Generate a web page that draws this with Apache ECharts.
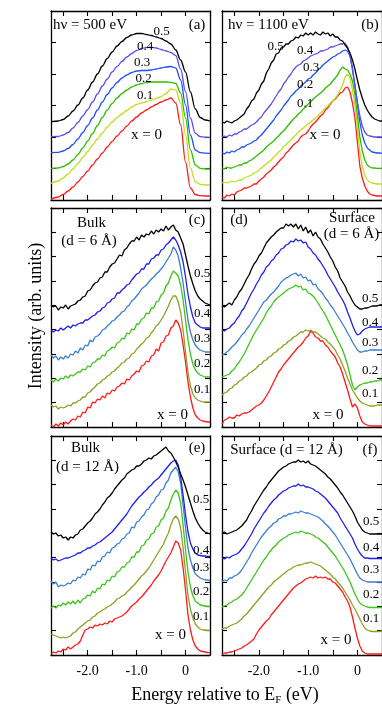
<!DOCTYPE html>
<html>
<head>
<meta charset="utf-8">
<script src="https://cdn.jsdelivr.net/npm/echarts@6/dist/echarts.min.js"></script>
<style>
html, body { margin: 0; padding: 0; background: #fff; }
#main { width: 382px; height: 707px; }
</style>
</head>
<body>
<div id="main"></div>
<script>
// energy grids (eV relative to EF)
const energyA = [-2.75, -2.6, -2.5, -2.4, -2.3, -2.2, -2.1, -2.0, -1.9, -1.8, -1.7, -1.6, -1.5, -1.4, -1.3, -1.2, -1.1, -1.0,
  -0.9, -0.8, -0.7, -0.6, -0.5, -0.4, -0.3, -0.2, -0.1, 0, 0.1, 0.2, 0.3, 0.4, 0.5]
const energy = [-2.75, -2.7, -2.65, -2.6, -2.55, -2.5, -2.45, -2.4, -2.35, -2.3,
  -2.25, -2.2, -2.15, -2.1, -2.05, -2, -1.95, -1.9, -1.85, -1.8,
  -1.75, -1.7, -1.65, -1.6, -1.55, -1.5, -1.45, -1.4, -1.35, -1.3,
  -1.25, -1.2, -1.15, -1.1, -1.05, -1, -0.95, -0.9, -0.85, -0.8,
  -0.75, -0.7, -0.65, -0.6, -0.55, -0.5, -0.45, -0.4, -0.35, -0.3,
  -0.25, -0.2, -0.15, -0.1, -0.05, 0, 0.05, 0.1, 0.15, 0.2,
  0.25, 0.3, 0.35, 0.4, 0.45, 0.5]

const tickValues = [-2.5, -2, -1.5, -1, -0.5, 0, 0.5]
const labelValues = [-2, -1, 0]
const curveLabels = ['x = 0', '0.1', '0.2', '0.3', '0.4', '0.5']

// (a) hv = 500 eV
const a0 = [0.7, 3, 5.5, 9, 13, 18, 23.5, 29, 35, 41, 47, 53, 58.5, 64, 69, 74, 79, 83, 87, 90, 93, 95.5, 98, 100, 102, 97, 75, 38, 12, 5.5, 4.3, 4, 4]
const a1 = [16.7, 19, 22, 26, 31, 36.5, 42.5, 48.5, 55, 61, 67, 73, 78, 82.5, 86, 89.5, 93, 95.5, 97, 98.5, 100, 101.5, 103.3, 106.5, 111, 110, 97, 65, 32, 18.3, 15.7, 15, 15]
const a2 = [31.7, 32, 33.5, 36, 40, 45.5, 52, 59, 66.5, 74.5, 82.5, 90, 96.5, 102, 106.5, 110, 113, 115, 116.5, 117.5, 118, 118, 118, 118, 117.7, 116.5, 107, 82, 50, 35, 31.7, 31, 31]
const a3 = [47.3, 47.7, 49, 51.5, 55.5, 61, 67.5, 74.5, 82, 90, 98, 105.5, 112, 117.5, 122, 125, 127.5, 129, 129.5, 129.5, 130, 131, 132, 133, 133.5, 132, 120, 95, 65, 50, 47.3, 46.8, 46.7]
const a4 = [63.3, 63.5, 65, 67.5, 72, 77.5, 84, 90.5, 98, 106, 114, 121, 128, 133.5, 138.5, 143, 146.5, 149.5, 151.5, 152.5, 152.7, 152, 150.5, 149, 147.5, 144.5, 131, 108.3, 82, 66.7, 63.3, 62.8, 62.7]
const a5 = [78.3, 79, 80.5, 84, 89, 95, 102, 110, 118, 126, 134, 141.5, 148, 154, 158.5, 162.5, 165, 166.5, 166.5, 165.5, 164.5, 163, 161.5, 159, 156, 150, 140, 128, 108, 91, 82.5, 80, 79]

// (b) hv = 1100 eV
const b0 = [3, 2, 5, 4, 6, 5, 8, 9, 10, 12, 12, 13, 14, 16, 16, 19, 21, 23, 26, 28, 30, 33, 35, 38, 41, 43, 47, 49, 52, 55,
  57, 59, 63, 65, 66, 69, 73, 76, 78, 81, 84, 86, 90, 92, 96, 99, 101, 104, 107, 108, 112, 113, 108, 97, 82, 58, 34, 22, 14, 9, 6, 5, 4.5, 4, 4, 4]
const b1 = [17, 18, 17, 18, 19, 18, 19, 20, 20, 22, 23, 24, 25, 27, 28, 30, 32, 34, 36, 38, 40, 43, 45, 48, 50, 53, 55, 58, 60, 63,
  65, 68, 70, 72, 74, 76, 78, 80, 82, 84, 87, 89, 92, 94, 97, 99, 102, 105, 110, 115, 123, 126, 122, 110, 95, 73, 48, 34, 25, 20, 18, 17, 16.5, 16, 16, 16]
const b2 = [32, 31, 33, 32, 32, 33, 34, 35, 35, 37, 37, 39, 40, 42, 44, 46, 48, 50, 53, 55, 57, 59, 62, 64, 67, 69, 72, 75, 78, 81,
  83, 86, 88, 91, 93, 96, 98, 101, 103, 105, 107, 109, 112, 114, 116, 119, 122, 125, 130, 133, 131, 130, 126, 119, 105, 85, 63, 49, 40, 35, 33, 32, 32, 31.7, 31.7, 31.7]
const b3 = [47, 46, 48, 47, 49, 48, 50, 51, 53, 53, 55, 56, 57, 59, 60, 63, 65, 68, 71, 74, 77, 80, 84, 87, 90, 94, 97, 100, 104, 106,
  109, 111, 114, 116, 118, 121, 122, 125, 127, 130, 132, 135, 137, 139, 141, 143, 144, 146, 147, 149, 150, 149, 144, 132, 115, 97, 78, 65, 57, 52, 50, 48, 47.5, 47, 47, 46.7]
const b4 = [63, 64, 63, 65, 64, 66, 66, 68, 69, 71, 71, 73, 75, 76, 78, 81, 83, 87, 90, 93, 96, 100, 104, 108, 111, 116, 119, 123, 126, 130,
  133, 135, 136, 139, 140, 142, 144, 145, 146, 147, 149, 149, 150, 151, 153, 153, 154, 155, 156, 156, 157, 153, 145, 130, 114, 98, 84, 74, 68, 65, 64, 63.5, 63, 63, 63, 63]
const b5 = [78, 77, 79, 78, 77, 79, 80, 82, 84, 86, 91, 94, 99, 101, 107, 110, 116, 119, 127, 131, 137, 140, 146, 147, 152, 153, 156, 156, 159, 160,
  163, 162, 165, 164, 167, 165, 167, 165, 168, 166, 165, 168, 166, 167, 164, 166, 163, 163, 160, 159, 155, 152, 147, 140, 131, 120, 110, 102, 95, 90, 86, 83, 81, 80, 79, 79]

// (c) bulk, d = 6 A
const c0 = [2, 0, 3, 1, 4, 2, 5, 3, 6, 8, 7, 11, 10, 15, 14, 20, 19, 25, 24, 28, 27, 31, 29, 34, 33, 37, 36, 40, 41, 44,
  43, 48, 47, 51, 53, 56, 55, 61, 62, 66, 65, 71, 72, 78, 76, 84, 85, 91, 92, 99, 101, 107, 104, 97, 82, 65, 45, 30, 19, 12, 9, 7, 6, 5.5, 5, 5]
const c1 = [22, 20, 21, 18, 20, 19, 20, 22, 21, 24, 24, 26, 27, 30, 30, 34, 35, 38, 40, 43, 44, 47, 48, 51, 52, 55, 56, 59, 61, 64,
  65, 68, 69, 73, 74, 78, 80, 83, 85, 89, 90, 94, 97, 101, 103, 107, 111, 116, 121, 127, 131, 131, 125, 115, 97, 75, 55, 41, 33, 29, 27, 26, 25, 25, 25, 25]
const c2 = [47, 45, 48, 46, 49, 48, 51, 49, 52, 51, 53, 55, 55, 58, 57, 61, 60, 64, 65, 68, 68, 72, 71, 76, 77, 80, 79, 84, 85, 89,
  88, 94, 93, 98, 97, 103, 103, 108, 109, 114, 113, 119, 119, 125, 126, 132, 134, 141, 144, 151, 156, 154, 151, 142, 127, 107, 87, 73, 63, 57, 54, 52, 51, 50, 50, 50]
const c3 = [72, 69, 71, 67, 70, 68, 71, 69, 73, 72, 76, 74, 79, 77, 82, 81, 87, 85, 90, 91, 93, 97, 98, 101, 103, 106, 107, 110, 112, 115,
  116, 120, 122, 126, 128, 131, 134, 138, 140, 142, 145, 148, 150, 153, 155, 158, 161, 165, 169, 173, 180, 177, 171, 159, 144, 125, 107, 95, 87, 82, 79, 77, 76, 75, 75, 75]
const c4 = [97, 95, 97, 96, 99, 97, 99, 101, 99, 102, 101, 103, 104, 104, 107, 107, 109, 111, 112, 115, 116, 119, 120, 124, 125, 128, 129, 134, 134, 137,
  139, 142, 143, 147, 150, 153, 154, 158, 158, 163, 163, 168, 169, 172, 172, 177, 178, 182, 184, 187, 190, 187, 182, 175, 165, 150, 133, 120, 110, 104, 102, 100, 99, 99, 99, 99]
const c5 = [122, 120, 121, 117, 120, 119, 122, 118, 121, 122, 123, 126, 127, 130, 131, 136, 137, 141, 144, 145, 149, 150, 155, 155, 160, 163, 164, 168, 172, 171,
  177, 179, 183, 186, 186, 190, 187, 192, 190, 193, 192, 196, 193, 197, 195, 198, 196, 201, 197, 200, 202, 197, 195, 189, 183, 172, 161, 151, 143, 136, 131, 128, 126, 124, 123, 122]

// (d) surface, d = 6 A
const d0 = [3, 7, 8, 10, 9, 9, 12, 11, 13, 14, 14, 15, 17, 19, 21, 22, 24, 27, 31, 35, 40, 45, 50, 55, 58, 62, 65, 68, 71, 74,
  77, 80, 82, 85, 89, 91, 96, 94, 90, 89, 86, 86, 82, 80, 76, 73, 70, 64, 60, 53, 45, 37, 28, 20, 23, 19, 11, 5, 3, 2, 1, 1, 1, 1, 1, 1]
const d1 = [32, 34, 35, 38, 39, 42, 43, 46, 47, 50, 51, 54, 55, 57, 59, 62, 63, 66, 67, 70, 71, 74, 75, 78, 79, 82, 83, 86, 87, 90,
  91, 93, 95, 95, 97, 96, 97, 95, 95, 93, 91, 89, 88, 85, 83, 80, 77, 72, 68, 62, 56, 49, 43, 37, 33, 29, 26, 24, 23, 22, 21, 21, 21, 22, 22, 22]
const d2 = [50, 51, 52, 53, 56, 58, 62, 65, 69, 73, 78, 83, 88, 93, 97, 101, 105, 109, 114, 118, 121, 125, 128, 130, 132, 134, 136, 138, 139, 140,
  142, 140, 141, 137, 138, 134, 133, 131, 128, 124, 120, 116, 112, 107, 102, 97, 92, 87, 82, 77, 70, 62, 52, 42, 37, 40, 42, 43, 44, 44, 45, 45, 46, 46, 47, 47]
const d3 = [72, 73, 75, 77, 80, 82, 85, 88, 92, 94, 98, 101, 105, 109, 113, 117, 121, 125, 127, 130, 133, 135, 138, 141, 145, 147, 149, 150, 152, 153,
  154, 151, 153, 149, 150, 146, 147, 142, 143, 138, 136, 133, 129, 126, 122, 119, 115, 111, 107, 103, 99, 94, 90, 85, 81, 77, 75, 75, 76, 76, 77, 77, 77, 77, 77, 77]
const d4 = [97, 96, 98, 99, 102, 104, 108, 111, 116, 119, 124, 129, 134, 138, 143, 147, 152, 155, 160, 162, 166, 168, 172, 174, 178, 179, 182, 183, 186, 185,
  188, 186, 187, 184, 185, 180, 178, 174, 172, 168, 165, 161, 157, 152, 148, 144, 140, 135, 131, 127, 122, 115, 109, 102, 96, 92, 93, 96, 98, 99, 100, 100, 100, 100, 100, 100]
const d5 = [121, 120, 122, 124, 122, 127, 130, 135, 138, 143, 148, 152, 158, 163, 166, 171, 174, 179, 184, 187, 190, 192, 195, 197, 199, 199, 203, 201, 203, 200,
  203, 198, 202, 196, 200, 194, 197, 191, 195, 190, 188, 183, 179, 175, 170, 166, 160, 156, 149, 145, 141, 135, 131, 126, 122, 120, 118, 118, 119, 119, 120, 121, 121, 121, 122, 122]

// (e) bulk, d = 12 A
const e0 = [1, 3, 2, 4, 3, 6, 5, 8, 6, 8, 10, 11, 14, 20, 25, 26, 28, 27, 30, 29, 31, 30, 32, 31, 34, 33, 36, 37, 38, 39,
  41, 43, 46, 49, 51, 53, 56, 58, 61, 64, 67, 70, 74, 77, 80, 84, 89, 94, 98, 102, 108, 114, 112, 105, 87, 65, 40, 25, 15, 9, 6, 4, 3.5, 3, 2.5, 2.3]
const e1 = [21, 20, 19, 18, 17, 18, 17, 18, 19, 22, 23, 26, 28, 30, 32, 34, 35, 38, 39, 42, 43, 45, 46, 48, 49, 51, 53, 56, 57, 59,
  60, 63, 65, 68, 70, 73, 76, 79, 81, 84, 87, 91, 95, 99, 103, 107, 111, 117, 122, 130, 136, 139, 136, 127, 107, 83, 60, 46, 37, 31, 28, 26, 25, 25, 24.5, 24.5]
const e2 = [47, 49, 47, 50, 49, 52, 50, 53, 51, 54, 51, 55, 52, 56, 57, 60, 59, 64, 62, 67, 66, 71, 70, 75, 74, 79, 78, 83, 84, 88,
  88, 92, 93, 98, 98, 103, 103, 109, 110, 115, 116, 121, 122, 128, 129, 135, 137, 144, 147, 155, 161, 165, 162, 152, 130, 105, 83, 68, 59, 54, 52, 50, 49.5, 49, 48.5, 48.5]
const e3 = [74, 71, 73, 68, 70, 69, 70, 72, 71, 75, 74, 78, 77, 81, 80, 86, 85, 90, 89, 94, 93, 98, 99, 103, 102, 107, 108, 111, 112, 116,
  117, 121, 122, 128, 127, 133, 134, 138, 140, 145, 146, 151, 153, 158, 160, 165, 166, 172, 175, 182, 185, 188, 183, 172, 150, 127, 107, 95, 87, 81, 79, 77, 76, 75, 75, 74.5]
const e4 = [97, 95, 96, 94, 95, 96, 97, 97, 98, 99, 100, 102, 102, 104, 105, 107, 107, 109, 110, 112, 113, 115, 117, 119, 121, 123, 126, 129, 132, 135,
  138, 141, 145, 149, 152, 155, 158, 160, 163, 165, 168, 170, 173, 175, 177, 180, 183, 186, 189, 192, 194, 195, 190, 178, 160, 140, 123, 112, 106, 102, 100, 99.5, 99, 99, 98.5, 98.5]
const e5 = [123, 121, 122, 119, 120, 117, 118, 115, 118, 117, 120, 121, 125, 126, 129, 132, 134, 137, 141, 143, 146, 150, 153, 157, 159, 162, 166, 169, 172, 175,
  177, 181, 183, 185, 186, 189, 189, 191, 194, 195, 197, 196, 199, 200, 202, 204, 206, 208, 204, 202, 198, 193, 188, 181, 175, 168, 160, 152, 144, 137, 132, 128, 125, 123, 122, 121]

// (f) surface, d = 12 A
const f0 = [1, 2, 2, 3, 3, 4, 5, 6, 7, 9, 10, 12, 14, 16, 21, 25, 28, 31, 34, 36, 40, 43, 46, 49, 52, 55, 58, 61, 64, 67,
  69, 71, 72, 74, 76, 77, 78, 77, 79, 77, 78, 77, 78, 76, 76, 73, 72, 69, 66, 63, 58, 54, 48, 38, 27, 17, 9, 4, 2, 1, 1, 1, 1, 1, 1, 1]
const f1 = [26, 27, 27, 29, 30, 31, 32, 34, 36, 39, 41, 44, 47, 50, 53, 56, 59, 62, 65, 68, 70, 73, 75, 77, 79, 81, 83, 85, 86, 88,
  89, 90, 90, 91, 92, 92, 93, 92, 91, 90, 89, 87, 85, 83, 81, 78, 76, 73, 70, 67, 63, 59, 55, 50, 46, 41, 36, 31, 27, 25, 24, 23.5, 23.5, 23.5, 23.5, 24]
const f2 = [48, 49, 50, 52, 53, 55, 56, 58, 60, 63, 67, 71, 75, 79, 83, 87, 91, 95, 98, 102, 105, 108, 110, 113, 115, 117, 118, 120, 121, 122,
  123, 122, 124, 123, 122, 122, 121, 120, 118, 117, 115, 113, 111, 108, 105, 102, 99, 95, 91, 87, 83, 78, 73, 67, 61, 56, 52, 50, 49, 48, 47.5, 47.5, 47.5, 47.5, 47.5, 47.5]
const f3 = [73.5, 75, 74, 77, 77, 79, 80, 82, 85, 89, 93, 97, 102, 106, 110, 114, 118, 121, 124, 127, 129, 132, 133, 136, 137, 139, 139, 141, 141, 142,
  143, 142, 144, 143, 142, 142, 141, 140, 139, 138, 136, 134, 131, 129, 126, 123, 120, 116, 112, 108, 104, 100, 96, 91, 86, 81, 77, 75, 74, 73, 73, 73, 73, 73, 73, 73]
const f4 = [97, 96, 98, 97, 99, 100, 101, 103, 106, 109, 113, 117, 121, 126, 130, 134, 138, 142, 145, 149, 152, 155, 157, 160, 162, 164, 165, 167, 168, 169,
  169, 171, 169, 170, 168, 168, 167, 166, 164, 163, 161, 159, 157, 154, 151, 148, 145, 142, 137, 133, 129, 125, 121, 117, 111, 106, 102, 99, 97, 97, 96.5, 96.5, 96.5, 96.5, 96.5, 96.5]
const f5 = [122, 123, 121, 122, 123, 124, 125, 127, 129, 132, 135, 140, 144, 149, 153, 157, 161, 165, 168, 172, 175, 178, 181, 184, 186, 188, 189, 191, 192, 193,
  193, 195, 193, 194, 192, 194, 191, 190, 189, 187, 185, 183, 181, 178, 176, 173, 170, 167, 163, 160, 156, 152, 148, 144, 139, 133, 129, 125, 123, 122, 121, 121, 121, 121, 121, 121]

const serif = 'Liberation Serif'
const colorsTop = ['#ff1a1a', '#c4dc1e', '#2ebf00', '#1f4fff', '#5a4fe6', '#000000']
const colorsBottom = ['#ff1a1a', '#8fa024', '#3cc41a', '#3a7fd0', '#1f1fe8', '#000000']

const panels = [
  { x: energyA, curves: [a0, a1, a2, a3, a4, a5], colors: colorsTop, smooth: true, box: { left: 51, top: 11, width: 159, height: 189 }, yMax: 189, yTicks: 6 },
  { x: energy, curves: [b0, b1, b2, b3, b4, b5], colors: colorsTop, box: { left: 222, top: 11, width: 160, height: 189 }, yMax: 189, yTicks: 6 },
  { x: energy, curves: [c0, c1, c2, c3, c4, c5], colors: colorsBottom, box: { left: 51, top: 208, width: 159, height: 219 }, yMax: 219, yTicks: 9 },
  { x: energy, curves: [d0, d1, d2, d3, d4, d5], colors: colorsBottom, box: { left: 222, top: 208, width: 160, height: 219 }, yMax: 219, yTicks: 9 },
  { x: energy, curves: [e0, e1, e2, e3, e4, e5], colors: colorsBottom, box: { left: 51, top: 436, width: 159, height: 219 }, yMax: 219, yTicks: 9, labels: true },
  { x: energy, curves: [f0, f1, f2, f3, f4, f5], colors: colorsBottom, box: { left: 222, top: 436, width: 160, height: 219 }, yMax: 219, yTicks: 9, labels: true }
]

const frameLine = { show: true, onZero: false, lineStyle: { color: '#000', width: 1.3 } }
const frameTick = { inside: true, length: 5, lineStyle: { color: '#000', width: 1.1 } }

const grid = []
const xAxis = []
const yAxis = []
const series = []

panels.forEach((p, i) => {
  grid.push(Object.assign({ containLabel: false }, p.box))
  ;['bottom', 'top'].forEach(pos => {
    xAxis.push({
      type: 'value',
      gridIndex: i,
      position: pos,
      min: -2.75,
      max: 0.5,
      axisLine: frameLine,
      axisTick: Object.assign({ customValues: tickValues }, frameTick),
      axisLabel: {
        show: pos === 'bottom' && !!p.labels,
        customValues: labelValues,
        margin: 9,
        fontFamily: serif,
        fontSize: 14,
        color: '#000',
        formatter: v => (v === 0 ? '0' : v.toFixed(1))
      },
      splitLine: { show: false }
    })
  })
  ;['left', 'right'].forEach(pos => {
    yAxis.push({
      type: 'value',
      gridIndex: i,
      position: pos,
      min: 0,
      max: p.yMax,
      interval: p.yMax / p.yTicks,
      axisLine: frameLine,
      axisTick: frameTick,
      axisLabel: { show: false },
      splitLine: { show: false }
    })
  })
  p.curves.forEach((c, k) => {
    series.push({
      type: 'line',
      name: curveLabels[k],
      xAxisIndex: 2 * i,
      yAxisIndex: 2 * i,
      data: p.x.map((e, j) => [e, c[j]]),
      showSymbol: false,
      smooth: p.smooth ? 0.35 : false,
      smoothMonotone: 'x',
      silent: true,
      lineStyle: { color: p.colors[k], width: 1.3 }
    })
  })
})

// annotation texts
function txt (text, x, y, size, align) {
  return {
    type: 'text',
    x: x,
    y: y,
    z: 100,
    silent: true,
    style: {
      text: text,
      fontFamily: serif,
      fontSize: size,
      fill: '#000',
      align: align || 'center',
      verticalAlign: 'middle',
      textAlign: align || 'center',
      textVerticalAlign: 'middle'
    }
  }
}

const graphic = [
  txt('h\u03bd = 500 eV', 53, 25, 15, 'left'),
  txt('(a)', 197, 25, 15),
  txt('0.5', 161.5, 32, 13), txt('0.4', 145, 47, 13), txt('0.3', 142, 63, 13),
  txt('0.2', 143.5, 78.5, 13), txt('0.1', 145, 96, 13), txt('x = 0', 146.5, 135, 15),

  txt('h\u03bd = 1100 eV', 228, 25, 15, 'left'),
  txt('(b)', 370, 25, 15),
  txt('0.5', 275.5, 47, 13), txt('0.4', 305, 51, 13), txt('0.3', 311, 68, 13),
  txt('0.2', 305, 84.5, 13), txt('0.1', 305, 103.5, 13), txt('x = 0', 325, 135, 15),

  txt('Bulk', 91.5, 223, 15), txt('(d = 6 \u00c5)', 89, 241, 15), txt('(c)', 197, 220, 15),
  txt('0.5', 194, 273.5, 13, 'left'), txt('0.4', 194, 314, 13, 'left'), txt('0.3', 194, 339, 13, 'left'),
  txt('0.2', 194, 363.5, 13, 'left'), txt('0.1', 194, 390, 13, 'left'), txt('x = 0', 172.5, 415, 15),

  txt('(d)', 239, 220, 15), txt('Surface', 352, 218.5, 15), txt('(d = 6 \u00c5)', 351.5, 234, 15),
  txt('0.5', 362, 298.5, 13, 'left'), txt('0.4', 362, 323, 13, 'left'), txt('0.3', 362, 342.5, 13, 'left'),
  txt('0.2', 362, 371, 13, 'left'), txt('0.1', 362, 394, 13, 'left'), txt('x = 0', 328, 415, 15),

  txt('Bulk', 85.5, 448.5, 15), txt('(d = 12 \u00c5)', 87.5, 467, 15), txt('(e)', 197, 448.5, 15),
  txt('0.5', 193, 500, 13, 'left'), txt('0.4', 193, 551, 13, 'left'), txt('0.3', 193, 567.5, 13, 'left'),
  txt('0.2', 193, 592, 13, 'left'), txt('0.1', 193, 617, 13, 'left'), txt('x = 0', 170.5, 635, 15),

  txt('Surface (d = 12 \u00c5)', 286.5, 450, 15), txt('(f)', 370, 450, 15),
  txt('0.5', 363, 522, 13, 'left'), txt('0.4', 363, 547.5, 13, 'left'), txt('0.3', 363, 570, 13, 'left'),
  txt('0.2', 363, 595, 13, 'left'), txt('0.1', 363, 619, 13, 'left'), txt('x = 0', 336, 640, 15),

  Object.assign(txt('Intensity (arb. units)', 36, 316, 18), { rotation: Math.PI / 2 }),
  {
    type: 'text',
    x: 225,
    y: 695,
    z: 100,
    silent: true,
    style: {
      text: '{n|Energy relative to E}{s|F}{n| (eV)}',
      fill: '#000',
      align: 'center',
      verticalAlign: 'middle',
      textAlign: 'center',
      textVerticalAlign: 'middle',
      rich: {
        n: { fontFamily: serif, fontSize: 18, fill: '#000' },
        s: { fontFamily: serif, fontSize: 11, fill: '#000', padding: [10, 0, 0, 0] }
      }
    }
  }
]

const chart = echarts.init(document.getElementById('main'), null, { renderer: 'canvas' })
chart.setOption({
  backgroundColor: '#fff',
  animation: false,
  grid: grid,
  xAxis: xAxis,
  yAxis: yAxis,
  series: series,
  graphic: graphic
})
</script>
</body>
</html>
